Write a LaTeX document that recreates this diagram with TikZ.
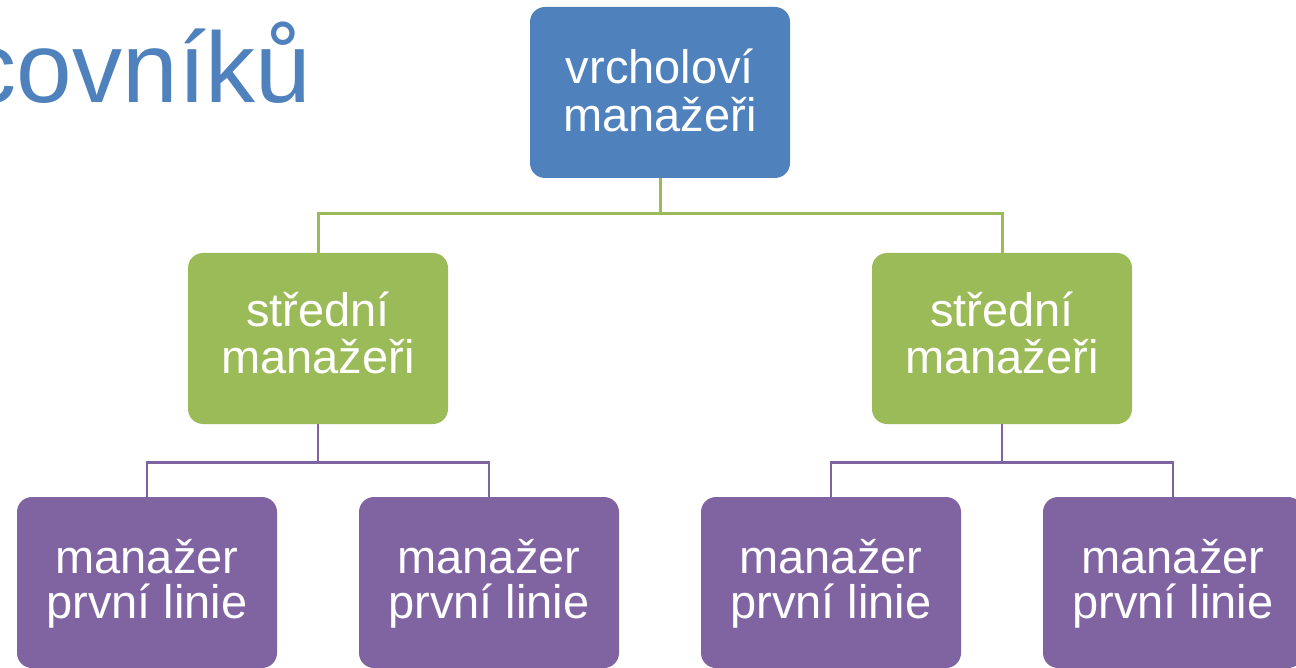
\documentclass[tikz,border=0pt]{standalone}
\usepackage{fontspec}
\setmainfont{Liberation Sans}
\definecolor{cblue}{HTML}{4F81BD}
\definecolor{cgreen}{HTML}{9BBB59}
\definecolor{cpurple}{HTML}{8064A2}
\tikzset{
  box/.style={rounded corners=7.5pt, minimum width=130pt, minimum height=85.5pt,
    inner sep=0pt},
  topbox/.style={box, fill=cblue},
  midbox/.style={box, fill=cgreen},
  lowbox/.style={box, fill=cpurple},
  txt/.style={inner sep=0pt, text=white, align=center},
  toptxt/.style={txt, font=\fontsize{23.5pt}{24pt}\selectfont, yshift=1.15pt},
  midtxt/.style={txt, font=\fontsize{23.5pt}{23.5pt}\selectfont, yshift=3pt},
  lowtxt/.style={txt, font=\fontsize{23.5pt}{22.5pt}\selectfont, yshift=-0.5pt},
  gline/.style={draw=cgreen, line width=1.5pt},
  pline/.style={draw=cpurple, line width=1.3pt}
}
\begin{document}
\begin{tikzpicture}[x=0.5pt,y=-0.5pt]
\useasboundingbox (0,0) rectangle (1296,668);
\clip (0,0) rectangle (1296,668);
\node[anchor=base east, inner sep=0pt, text=cblue, font=\fontsize{50pt}{60pt}\selectfont] (title) at (312,103) {covníků};
\node[topbox] (top) at (660,92.5) {};
\node[midbox] (g1) at (318,338.5) {};
\node[midbox] (g2) at (1002,338.5) {};
\node[lowbox] (p1) at (147,582.5) {};
\node[lowbox] (p2) at (489,582.5) {};
\node[lowbox] (p3) at (831,582.5) {};
\node[lowbox] (p4) at (1173,582.5) {};
\node[toptxt] (topt) at (top.center) {vrcholoví\\manažeři};
\node[midtxt] (g1t) at (g1.center) {střední\\manažeři};
\node[midtxt] (g2t) at (g2.center) {střední\\manažeři};
\node[lowtxt] (p1t) at (p1.center) {manažer\\první linie};
\node[lowtxt] (p2t) at (p2.center) {manažer\\první linie};
\node[lowtxt] (p3t) at (p3.center) {manažer\\první linie};
\node[lowtxt] (p4t) at (p4.center) {manažer\\první linie};
\draw[gline] (top.south) -- ++(0,35) -| (g1.north);
\draw[gline] (top.south) -- ++(0,35) -| (g2.north);
\draw[pline] (g1.south) -- ++(0,38) -| (p1.north);
\draw[pline] (g1.south) -- ++(0,38) -| (p2.north);
\draw[pline] (g2.south) -- ++(0,38) -| (p3.north);
\draw[pline] (g2.south) -- ++(0,38) -| (p4.north);
\end{tikzpicture}
\end{document}
